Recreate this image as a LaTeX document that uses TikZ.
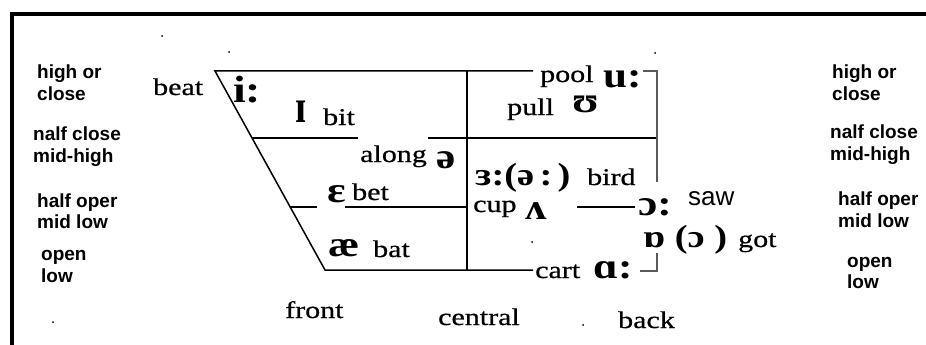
\documentclass[tikz,border=0pt]{standalone}
\usepackage{fontspec}
\usepackage{graphicx}
\setmainfont{Liberation Serif}
\newfontfamily\serw[FakeStretch=1.25,FakeBold=0.7]{Liberation Serif}
\newfontfamily\ipaf[FakeStretch=1.2]{Liberation Serif}
\newfontfamily\sanslab{Liberation Sans}
\begin{document}
\begin{tikzpicture}[x=1pt,y=-1pt,
  lab/.style={anchor=base west,inner sep=0pt,font={\sanslab\bfseries\fontsize{19}{22}\selectfont}},
  wrd/.style={anchor=base west,inner sep=0pt,font={\serw\fontsize{24}{28}\selectfont}},
  ipa/.style={anchor=base west,inner sep=0pt,font={\ipaf\bfseries\fontsize{36}{40}\selectfont}},
  ipasmall/.style={anchor=base west,inner sep=0pt,font={\ipaf\bfseries\fontsize{32}{36}\selectfont}},
  chart/.style={line width=1.5pt},
  axis/.style={line width=2pt},
  backline/.style={line width=1.1pt,black!65},
  frame/.style={line width=3.5pt},
  speck/.style={fill=black}]
\fill[white] (0,0) rectangle (926,345);
\useasboundingbox (0,0) rectangle (926,345);
% frame
\coordinate (F0) at (10,14);
\coordinate (F1) at (926,14);
\coordinate (F2) at (12,12.5);
\coordinate (F3) at (12,345);
\draw[frame] (F0) -- (F1);
\draw[line width=4.5pt] (F2) -- (F3);
% chart corners
\coordinate (TL) at (215,71);
\coordinate (T1) at (533,71);
\coordinate (T2) at (643,71);
\coordinate (TR) at (657,71);
\coordinate (R1) at (657,182);
\coordinate (R2) at (657,253);
\coordinate (BR) at (657,271);
\coordinate (B2) at (640,271);
\coordinate (B1) at (533,270);
\coordinate (BL) at (325,270);
\coordinate (TC) at (467,71);
\coordinate (BC) at (467,270);
\coordinate (U0) at (252,138);
\coordinate (U1) at (358,138);
\coordinate (U2) at (428,138);
\coordinate (U3) at (657,138);
\coordinate (M0) at (290,207);
\coordinate (M1) at (317,207);
\coordinate (M2) at (345,207);
\coordinate (M3) at (467,207);
\coordinate (M4) at (577,207);
\coordinate (M5) at (635,207);
\draw[chart] (T1) -- (TL) -- (BL) -- (B1);
\draw[axis] (TC) -- (BC);
\draw[chart] (U0) -- (U1);
\draw[chart] (U2) -- (U3);
\draw[chart] (M0) -- (M1);
\draw[chart] (M2) -- (M3);
\draw[chart] (M4) -- (M5);
\draw[backline] (T2) -- (TR) -- (R1);
\draw[backline] (R2) -- (BR) -- (B2);
% side labels left
\node[lab] (lhc1a) at (37,78) {high or};
\node[lab] (lhc1b) at (37,100) {close};
\node[lab] (lhm1a) at (33,140) {nalf close};
\node[lab] (lhm1b) at (33,162) {mid-high};
\node[lab] (lho1a) at (37,207) {half oper};
\node[lab] (lho1b) at (37,228) {mid low};
\node[lab] (lop1a) at (41,260) {open};
\node[lab] (lop1b) at (41,282) {low};
% side labels right
\node[lab] (rhc1a) at (832,78) {high or};
\node[lab] (rhc1b) at (832,100) {close};
\node[lab] (rhm1a) at (830,138) {nalf close};
\node[lab] (rhm1b) at (830,160) {mid-high};
\node[lab] (rho1a) at (838,205) {half oper};
\node[lab] (rho1b) at (838,227) {mid low};
\node[lab] (rop1a) at (847,267) {open};
\node[lab] (rop1b) at (847,288) {low};
% vowels
\node[ipa,font={\ipaf\bfseries\fontsize{38}{40}\selectfont}] (vi) at (233,102) {i:};
\node[ipa] (vish) at (295,122) {\scalebox{0.9}[1.3]{ɪ}};
\node[ipa] (vu) at (603,88) {u:};
\node[ipa] (vupsilon) at (572,112) {ʊ};
\node[ipasmall] (ver) at (475,185) {ɜ:(ə\,:\,)};
\node[ipa] (vschwa) at (436,168) {ə};
\node[ipa] (veps) at (327,202) {ɛ};
\node[ipa] (vae) at (328,256) {æ};
\node[ipa] (vwedge) at (525,219) {ʌ};
\node[ipa] (vopen) at (638,215) {ɔ:};
\node[ipasmall] (vrot) at (643,247) {ɒ (ɔ )};
\node[ipa] (vaa) at (593,278) {ɑ:};
% words
\node[wrd] (wbeat) at (153,95) {beat};
\node[wrd] (wbit) at (323,125) {bit};
\node[wrd] (walong) at (360,162) {along};
\node[wrd] (wpool) at (540,82) {pool};
\node[wrd] (wpull) at (507,115) {pull};
\node[wrd] (wbird) at (587,185) {bird};
\node[wrd] (wbet) at (352,200) {bet};
\node[wrd] (wbat) at (373,257) {bat};
\node[wrd] (wcup) at (473,212) {cup};
\node[wrd] (wgot) at (738,247) {got};
\node[wrd] (wcart) at (535,278) {cart};
\node[anchor=base west,inner sep=0pt,font={\sanslab\fontsize{26}{28}\selectfont}] (wsaw) at (688,205) {saw};
% axis labels
\node[wrd] (wfront) at (285,318) {front};
\node[wrd] (wcentral) at (438,325) {central};
\node[wrd] (wback) at (618,328) {back};
% specks
\fill[speck] (162,36) circle (1);
\fill[speck] (229,52) circle (1);
\fill[speck] (655,53) circle (1);
\fill[speck] (53,322) circle (1);
\fill[speck] (583,325) circle (1);
\fill[speck] (532,242) circle (1);
\end{tikzpicture}
\end{document}
